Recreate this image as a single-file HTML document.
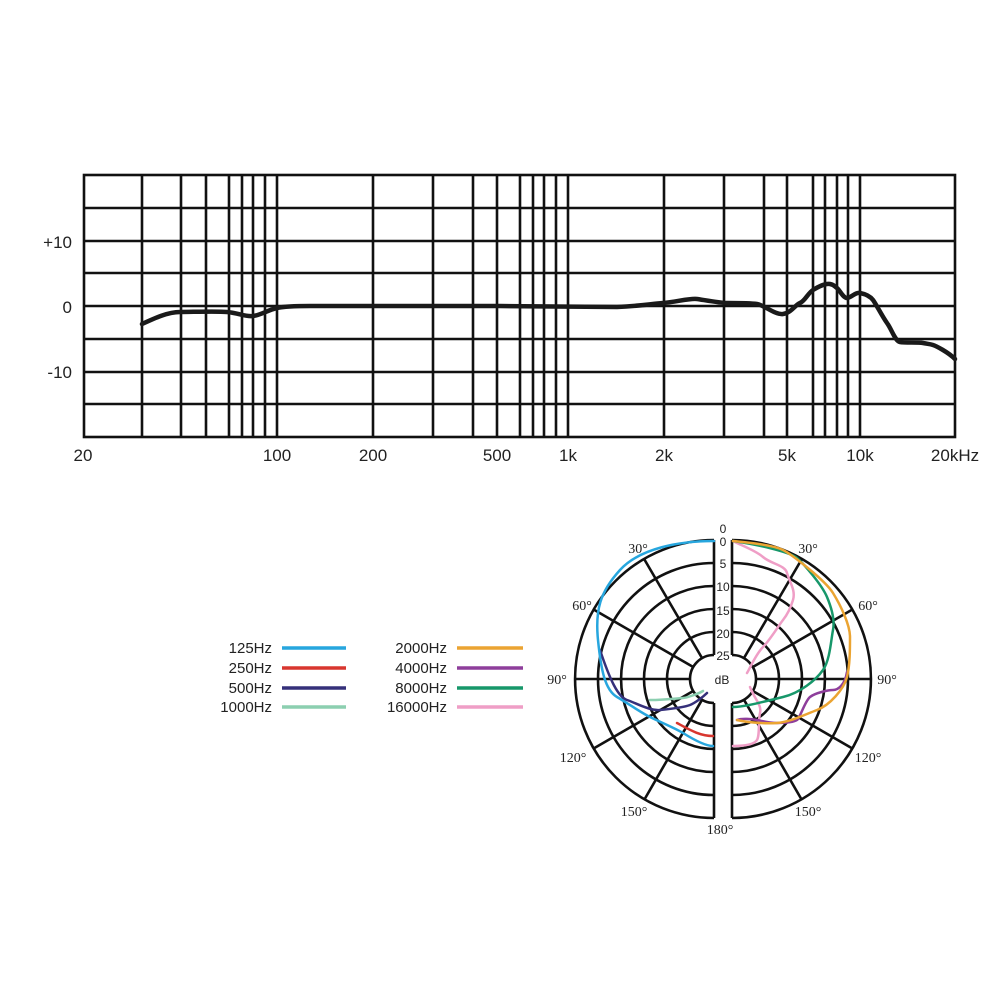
<!DOCTYPE html>
<html><head><meta charset="utf-8"><style>
html,body{margin:0;padding:0;background:#fff;}
svg{display:block;}
</style></head><body>
<svg width="1000" height="1000" viewBox="0 0 1000 1000" xmlns="http://www.w3.org/2000/svg">
<g stroke="#111" stroke-width="2.6" fill="none">
<rect x="84" y="175" width="871" height="262"/>
<path d="M84 208H955M84 241H955M84 273H955M84 306H955M84 339H955M84 372H955M84 404H955"/>
<path d="M142 175V437M181 175V437M206 175V437M229 175V437M242 175V437M253 175V437M265 175V437M277 175V437M373 175V437M433 175V437M473 175V437M497 175V437M520 175V437M533 175V437M544 175V437M556 175V437M568 175V437M664 175V437M724 175V437M764 175V437M787 175V437M813 175V437M825 175V437M837 175V437M848 175V437M860 175V437"/>
</g>
<path d="M142 324 C155 318,168 312,180 312 S215 311,227 312 S245 317,253 316 S268 310,277 308 S300 306,310 306 L500 306 L617 307 C640 306,650 304,663 303 S690 298,697 299 S720 303,727 303 S750 303,757 304 S775 315,783 314 S795 305,800 303 S808 293,813 290 S825 283,830 284 S835 287,837 288 S843 298,847 298 S855 292,860 293 S870 296,873 300 S882 316,887 323 S895 341,900 342 S918 342,923 343 S930 344,933 345 S948 352,955 359" stroke="#1a1a1a" stroke-width="4.5" fill="none" stroke-linecap="round"/>
<g font-family="Liberation Sans, sans-serif" font-size="17" fill="#222">
<text x="72" y="248" text-anchor="end">+10</text>
<text x="72" y="313" text-anchor="end">0</text>
<text x="72" y="378" text-anchor="end">-10</text>
<text x="83" y="461" text-anchor="middle">20</text>
<text x="277" y="461" text-anchor="middle">100</text>
<text x="373" y="461" text-anchor="middle">200</text>
<text x="497" y="461" text-anchor="middle">500</text>
<text x="568" y="461" text-anchor="middle">1k</text>
<text x="664" y="461" text-anchor="middle">2k</text>
<text x="787" y="461" text-anchor="middle">5k</text>
<text x="860" y="461" text-anchor="middle">10k</text>
<text x="955" y="461" text-anchor="middle">20kHz</text>
</g>
<g font-family="Liberation Sans, sans-serif" font-size="15" fill="#222" text-anchor="end">
<text x="272" y="653">125Hz</text><text x="272" y="673">250Hz</text><text x="272" y="693">500Hz</text><text x="272" y="712">1000Hz</text>
<text x="447" y="653">2000Hz</text><text x="447" y="673">4000Hz</text><text x="447" y="693">8000Hz</text><text x="447" y="712">16000Hz</text>
</g>
<g stroke-width="3.5">
<path d="M282 648H346" stroke="#27a6de"/><path d="M282 668H346" stroke="#d8362f"/><path d="M282 688H346" stroke="#35307a"/><path d="M282 707H346" stroke="#8ccfb0"/>
<path d="M457 648H523" stroke="#eba432"/><path d="M457 668H523" stroke="#8e3e9b"/><path d="M457 688H523" stroke="#17976a"/><path d="M457 707H523" stroke="#ef9ec6"/>
</g>
<g stroke="#111" stroke-width="2.6" fill="none">
<path d="M714 655A24 24 0 0 0 714 703M714 632A47 47 0 0 0 714 726M714 609A70 70 0 0 0 714 749M714 586A93 93 0 0 0 714 772M714 563A116 116 0 0 0 714 795M714 540A139 139 0 0 0 714 818"/>
<path d="M732 655A24 24 0 0 1 732 703M732 632A47 47 0 0 1 732 726M732 609A70 70 0 0 1 732 749M732 586A93 93 0 0 1 732 772M732 563A116 116 0 0 1 732 795M732 540A139 139 0 0 1 732 818"/>
<path d="M714 540V655M714 703V818M732 540V655M732 703V818"/>
<path d="M702 658L644.5 559.6M693.2 667L593.6 609.5M690 679H575M693.2 691L593.6 748.5M702 699.8L644.5 799.4"/>
<path d="M744 658L801.5 559.6M752.8 667L852.4 609.5M756 679H871M752.8 691L852.4 748.5M744 699.8L801.5 799.4"/>
</g>
<g font-family="Liberation Serif, serif" font-size="14" fill="#222" text-anchor="middle">
<text x="638" y="553">30°</text><text x="582" y="610">60°</text><text x="557" y="684">90°</text><text x="573" y="762">120°</text><text x="634" y="816">150°</text><text x="720" y="834">180°</text>
<text x="808" y="553">30°</text><text x="868" y="610">60°</text><text x="887" y="684">90°</text><text x="868" y="762">120°</text><text x="808" y="816">150°</text>
</g>
<g font-family="Liberation Sans, sans-serif" font-size="12" fill="#222" text-anchor="middle">
<text x="723" y="533">0</text><text x="723" y="546">0</text><text x="723" y="568">5</text><text x="723" y="591">10</text><text x="723" y="615">15</text><text x="723" y="638">20</text><text x="723" y="660">25</text><text x="722" y="684">dB</text>
</g>
<g fill="none" stroke-width="2.5" stroke-linecap="round">
<path d="M650 700 C665 700,680 698,683 698 S698 694,703 691" stroke="#8ccfb0"/>
<path d="M600 650 C610 680,618 697,627 700 S650 711,660 710 S685 707,690 705 S703 697,707 693" stroke="#35307a"/>
<path d="M677 723 C690 730,700 736,713 736" stroke="#d8362f"/>
<path d="M714 541 C680 541,640 548,620 570 S595 610,598 640 S605 690,617 697 S640 712,650 717 S675 728,683 733 S705 746,713 746" stroke="#27a6de"/>
<path d="M733 541 C740 545,755 550,763 557 S785 565,787 573 S796 590,793 600 S787 615,783 620 S770 640,763 647 S750 668,747 673" stroke="#ef9ec6"/>
<path d="M750 687 C755 700,762 705,760 713 S760 735,757 740 S742 746,733 746" stroke="#ef9ec6"/>
<path d="M733 541 C760 545,790 552,797 558 S822 585,827 597 S835 620,833 630 S830 660,823 670 S800 693,783 697 S745 707,733 707" stroke="#17976a"/>
<path d="M847 672 C845 685,838 690,833 690 S815 693,810 697 S800 718,797 720 S785 723,777 723 S762 721,757 720 S742 718,737 720" stroke="#8e3e9b"/>
<path d="M733 541 C755 543,775 546,783 550 S825 580,833 593 S850 625,850 637 S850 665,847 677 S830 705,817 710 S790 722,777 723 S745 722,737 720" stroke="#eba432"/>
</g>
</svg>
</body></html>
